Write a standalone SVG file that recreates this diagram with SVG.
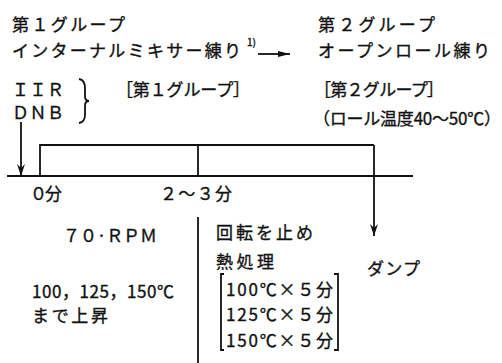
<svg xmlns="http://www.w3.org/2000/svg" width="502" height="363" viewBox="0 0 502 363">
<style>
text{font-family:"Noto Sans CJK JP","Noto Sans",sans-serif;font-size:17px;fill:#111;stroke:#111;stroke-width:0.35}
.ln{stroke:#111;stroke-width:1.8;fill:none}
.sup{font-size:10px}
</style>
<defs>
<marker id="ah" markerWidth="12" markerHeight="8" refX="12" refY="4" orient="auto" markerUnits="userSpaceOnUse" viewBox="0 0 12 8">
<path d="M0,0 L12,4 L0,8 L4,4 Z" fill="#111"/>
</marker>
<marker id="ah2" markerWidth="12" markerHeight="6" refX="12" refY="3" orient="auto" markerUnits="userSpaceOnUse" viewBox="0 0 12 6">
<path d="M0,0 L12,3 L0,6 Z" fill="#111"/>
</marker>
</defs>
<rect width="502" height="363" fill="#fff"/>

<g id="group1">
<text x="12" y="31" textLength="113" lengthAdjust="spacing">第１グループ</text>
<text x="12" y="57" textLength="229" lengthAdjust="spacing">インターナルミキサー練り</text>
<text class="sup" x="247" y="46">1)</text>
</g>
<g id="group2">
<text x="318" y="31" textLength="117" lengthAdjust="spacing">第２グループ</text>
<text x="318" y="57" textLength="172" lengthAdjust="spacing">オープンロール練り</text>
</g>
<g id="materials">
<text x="12" y="96" textLength="52" lengthAdjust="spacing">ＩＩＲ</text>
<text x="12" y="119" textLength="52" lengthAdjust="spacing">ＤＮＢ</text>
<path class="ln" d="M79,79 Q85,80 85,88 L85,96 Q85,101 89,101 Q85,101 85,106 L85,115 Q85,122 79,123" stroke-width="1.5"/>
</g>
<g id="stage1-label">
<text x="116" y="96" textLength="134" lengthAdjust="spacing">［第１グループ］</text>
</g>
<g id="stage2-label">
<text x="314" y="96" textLength="130" lengthAdjust="spacing">［第２グループ］</text>
<text x="313" y="125" textLength="188" lengthAdjust="spacing">（ロール温度40〜50℃）</text>
</g>

<g id="connectors">
<line class="ln" x1="258" y1="54" x2="290" y2="54" stroke-width="1.5" marker-end="url(#ah2)"/>
<line class="ln" x1="21" y1="122" x2="21" y2="176" stroke-width="1.5" marker-end="url(#ah)"/>
<line class="ln" x1="374" y1="145" x2="374" y2="236" marker-end="url(#ah)"/>
</g>

<g id="timeline">
<line class="ln" x1="7" y1="176" x2="413" y2="176"/>
<polyline class="ln" points="40,176 40,145 374,145"/>
<line class="ln" x1="198" y1="145" x2="198" y2="176"/>
<line class="ln" x1="198" y1="217" x2="198" y2="363" stroke-width="1.5"/>
<text x="30" y="200" textLength="32" lengthAdjust="spacing">０分</text>
<text x="160" y="200" textLength="72" lengthAdjust="spacing">２〜３分</text>
</g>

<g id="phase1">
<text x="63" y="242" textLength="94" lengthAdjust="spacing">７０·ＲＰＭ</text>
<text x="32" y="298" textLength="142" lengthAdjust="spacing">100，125，150℃</text>
<text x="32" y="322" textLength="76" lengthAdjust="spacing">まで上昇</text>
</g>

<g id="phase2">
<text x="216" y="239" textLength="97" lengthAdjust="spacing">回転を止め</text>
<text x="216" y="268" textLength="58" lengthAdjust="spacing">熱処理</text>
<path class="ln" d="M224,274 L221,274 L221,350 L224,350" stroke-width="2"/>
<path class="ln" d="M334,274 L338,274 L338,350 L334,350" stroke-width="2"/>
<text x="226" y="296" textLength="107" lengthAdjust="spacing">100℃×５分</text>
<text x="226" y="321" textLength="107" lengthAdjust="spacing">125℃×５分</text>
<text x="226" y="347" textLength="107" lengthAdjust="spacing">150℃×５分</text>
</g>

<g id="dump">
<text x="367" y="275" textLength="53" lengthAdjust="spacing">ダンプ</text>
</g>
</svg>
